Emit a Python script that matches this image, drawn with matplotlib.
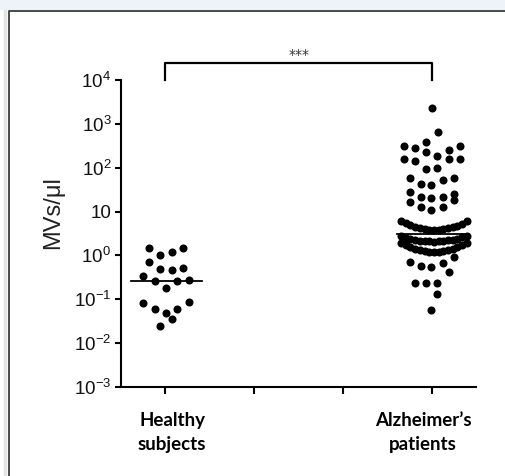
import numpy as np
import matplotlib
matplotlib.use("Agg")
import matplotlib.pyplot as plt
from matplotlib.lines import Line2D
from matplotlib.patches import Rectangle

plt.rcParams["font.family"] = ["Liberation Sans", "DejaVu Sans"]
plt.rcParams["mathtext.fontset"] = "custom"
plt.rcParams["mathtext.rm"] = "Liberation Sans"
plt.rcParams["mathtext.it"] = "Liberation Sans:italic"
plt.rcParams["mathtext.bf"] = "Liberation Sans:bold"

# --- data ---
groups = ["Healthy\nsubjects", "Alzheimer\u2019s\npatients"]
y_label = "MVs/\u03bcl"
sig_text = "***"

healthy_vals = [1.49, 1.0, 1.19, 1.5, 0.71, 0.48, 0.47, 0.52,
                0.33, 0.26, 0.18, 0.26, 0.28,
                0.083, 0.061, 0.048, 0.06, 0.084, 0.035, 0.025]
healthy_dx = [-0.19, -0.06, 0.07, 0.195, -0.19, -0.06, 0.07, 0.195,
              -0.25, -0.12, 0.01, 0.13, 0.26,
              -0.25, -0.12, 0.01, 0.13, 0.26, 0.07, -0.06]

alz_upper_vals = [2290, 671,
                  316, 279, 395, 256, 316,
                  159, 144, 226, 187, 159, 159,
                  92, 101,
                  58, 43, 41, 53, 58,
                  28.5, 21.9, 20.8, 21.9, 25, 18.4,
                  16.9, 12.9, 10.9, 12.9]
alz_upper_dx = [0.0, 0.07,
                -0.32, -0.195, -0.065, 0.19, 0.315,
                -0.32, -0.195, -0.065, 0.06, 0.19, 0.315,
                -0.065, 0.06,
                -0.25, -0.13, -0.01, 0.125, 0.25,
                -0.25, -0.13, -0.01, 0.125, 0.25, 0.25,
                -0.25, -0.13, -0.01, 0.125]

# dense band around the median: three "smile" rows of the swarm
alz_band_vals = [6.1, 5.4, 4.85, 4.4, 4.15, 3.95, 3.85, 3.8, 3.85, 3.95, 4.15, 4.45, 4.8, 5.35, 6.0,
                 2.77, 2.55, 2.4, 2.28, 2.19, 2.13, 2.09, 2.08, 2.09, 2.13, 2.2, 2.28, 2.4, 2.57, 2.8,
                 1.92, 1.69, 1.52, 1.39, 1.31, 1.24, 1.21, 1.19, 1.21, 1.24, 1.3, 1.39, 1.53, 1.7, 1.9]
band_row_dx = [-0.35, -0.297, -0.244, -0.191, -0.138, -0.085, -0.032, 0.021,
               0.074, 0.127, 0.18, 0.233, 0.286, 0.339, 0.392]
alz_band_dx = band_row_dx * 3

alz_lower_vals = [0.93, 0.69, 0.58, 0.55, 0.68, 0.42, 0.24, 0.24, 0.24, 0.131, 0.058]
alz_lower_dx = [0.25, -0.25, -0.13, -0.01, 0.125, 0.19, -0.195, -0.07, 0.06, 0.06, -0.01]

alz_vals = alz_upper_vals + alz_band_vals + alz_lower_vals
alz_dx = alz_upper_dx + alz_band_dx + alz_lower_dx

medians = [0.264, 3.03]
y_ticks = [1e-3, 1e-2, 1e-1, 1e0, 1e1, 1e2, 1e3, 1e4]
y_tick_labels = [r"$\mathregular{10^{-3}}$", r"$\mathregular{10^{-2}}$",
                 r"$\mathregular{10^{-1}}$", r"$\mathregular{10^{0}}$", "10",
                 r"$\mathregular{10^{2}}$", r"$\mathregular{10^{3}}$",
                 r"$\mathregular{10^{4}}$"]

# --- layout ---
W, H = 506, 476
group_x = [0, 3]
label_dx = [0.075, -0.1]

fig = plt.figure(figsize=(W / 100, H / 100), dpi=100)
fig.patch.set_facecolor("white")

# page decoration: light band on top, dark frame on left/top
fig.patches.append(Rectangle((0, 1 - 9.5 / H), 1, 9.5 / H, transform=fig.transFigure,
                             facecolor="#eef3f9", edgecolor="none", zorder=0))
fig.lines.append(Line2D([5.5 / W, 5.5 / W], [0, 1 - 11 / H], transform=fig.transFigure,
                        color="#e4e4e4", lw=2.5))
fig.lines.append(Line2D([8.5 / W, 8.5 / W, 1], [0, 1 - 10.5 / H, 1 - 10.5 / H],
                        transform=fig.transFigure, color="#3c3c3c", lw=1.3))

ax = fig.add_axes([121 / W, (H - 386.7) / H, 355.5 / W, 306.3 / H])

for gx, vals, dx in [(group_x[0], healthy_vals, healthy_dx),
                     (group_x[1], alz_vals, alz_dx)]:
    ax.plot(gx + np.array(dx), vals, "o", color="black", ms=5.8, mew=0,
            clip_on=False, zorder=3)

for gx, med in zip(group_x, medians):
    ax.plot([gx - 0.39, gx + 0.41], [med, med], color="black", lw=1.3, zorder=4)

ax.set_yscale("log")
ax.set_ylim(1e-3, 1e4)
ax.set_xlim(-0.5, 3.5)
ax.set_yticks(y_ticks)
ax.set_yticklabels(y_tick_labels, fontsize=13.5, color="#111111")
ax.yaxis.set_minor_locator(matplotlib.ticker.NullLocator())
ax.set_xticks([0, 1, 2, 3])
ax.set_xticklabels([])

for side in ["top", "right"]:
    ax.spines[side].set_visible(False)
for side in ["left", "bottom"]:
    ax.spines[side].set_linewidth(1.5)
ax.tick_params(axis="both", width=1.5, length=4, direction="out", pad=3)
ax.tick_params(axis="x", length=5)

ax.set_ylabel(y_label, fontsize=17, color="#222222")
ax.yaxis.set_label_coords(-0.16, 0.567)

for gx, name, ldx in zip(group_x, groups, label_dx):
    ax.text(gx + ldx, -0.082, name, transform=ax.get_xaxis_transform(),
            ha="center", va="top", fontsize=13.5, fontweight="bold",
            family="Lato", linespacing=1.5)

# significance bracket
bt = ax.get_xaxis_transform()
ax.plot([group_x[0], group_x[0], group_x[1], group_x[1]], [1.0, 1.058, 1.058, 1.0],
        transform=bt, color="black", lw=1.6, clip_on=False)
ax.text(np.mean(group_x), 1.083, sig_text, transform=bt, ha="center", va="center",
        fontsize=10, color="#333333", family="DejaVu Sans")

fig.savefig("out.png", dpi=100)
